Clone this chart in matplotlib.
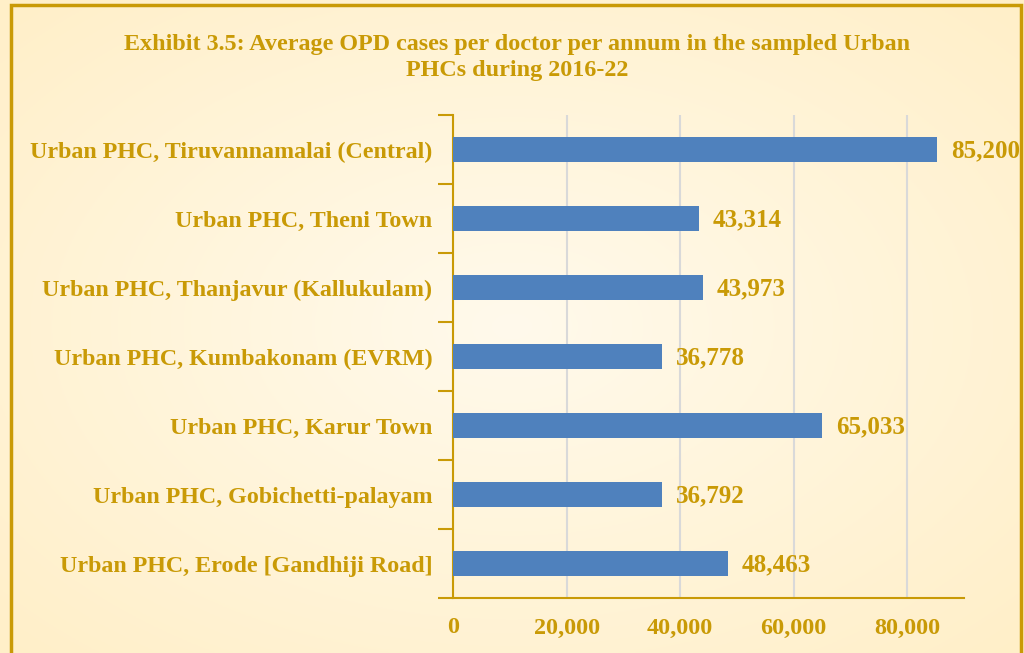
import numpy as np
import matplotlib.pyplot as plt
from matplotlib.patches import Rectangle
from matplotlib.ticker import FuncFormatter

plt.rcParams['font.family'] = 'Liberation Serif'
plt.rcParams['font.weight'] = 'bold'

# data (top to bottom as shown)
phcs = [
    'Urban PHC, Tiruvannamalai (Central)',
    'Urban PHC, Theni Town',
    'Urban PHC, Thanjavur (Kallukulam)',
    'Urban PHC, Kumbakonam (EVRM)',
    'Urban PHC, Karur Town',
    'Urban PHC, Gobichetti-palayam',
    'Urban PHC, Erode [Gandhiji Road]',
]
opd_cases = [85200, 43314, 43973, 36778, 65033, 36792, 48463]
x_ticks = [0, 20000, 40000, 60000, 80000]

gold = '#C99A06'
bar_color = '#4F81BD'

fig = plt.figure(figsize=(10.24, 6.53), dpi=100)

# soft radial background
bg = fig.add_axes([0, 0, 1, 1], zorder=-10)
yy, xx = np.mgrid[-1:1:300j, -1:1:400j]
r = np.sqrt(xx**2 + yy**2) / np.sqrt(2)
c_in = np.array([255, 250, 236]) / 255
c_out = np.array([255, 239, 200]) / 255
img = c_in[None, None, :] * (1 - r[..., None]) + c_out[None, None, :] * r[..., None]
bg.imshow(img, extent=[0, 1, 0, 1], aspect='auto')
bg.set_xlim(0, 1)
bg.set_ylim(0, 1)
bg.axis('off')
bg.add_patch(Rectangle((11 / 1024, -0.05), 1010 / 1024, 1.05 - 5 / 653,
                       fill=False, edgecolor=gold, linewidth=2.5))

fig.text(0.505, 0.912, 'Exhibit 3.5: Average OPD cases per doctor per annum in the sampled Urban\nPHCs during 2016-22',
         ha='center', va='center', color=gold, fontsize=17.4, linespacing=1.3)

ax = fig.add_axes([0.4424, 0.0842, 0.499, 0.7397])
ax.set_facecolor('none')
y = np.arange(len(phcs))
ax.barh(y, opd_cases, height=0.35, color=bar_color, zorder=3)
ax.set_ylim(len(phcs) - 0.5, -0.5)
ax.set_xlim(0, 90000)

for yi, v in zip(y, opd_cases):
    ax.annotate(f'{v:,}', (v, yi), xytext=(10, -1), textcoords='offset points',
                ha='left', va='center', color=gold, fontsize=18, zorder=4)

ax.set_yticks(y)
ax.set_yticklabels(phcs, color=gold, fontsize=17.3)
ax.set_yticks(np.arange(-0.5, len(phcs)), minor=True)
ax.tick_params(axis='y', which='major', length=0, pad=15)
ax.tick_params(axis='y', which='minor', length=11, width=1.5, color=gold)

ax.set_xticks(x_ticks)
ax.xaxis.set_major_formatter(FuncFormatter(lambda v, p: f'{int(v):,}'))
ax.tick_params(axis='x', length=0, pad=14, labelcolor=gold, labelsize=17.4)
ax.grid(axis='x', color='#D9D9D9', linewidth=1.5, zorder=0)

for s in ['top', 'right']:
    ax.spines[s].set_visible(False)
for s in ['left', 'bottom']:
    ax.spines[s].set_color(gold)
    ax.spines[s].set_linewidth(1.5)

fig.savefig('out.png', dpi=100)
